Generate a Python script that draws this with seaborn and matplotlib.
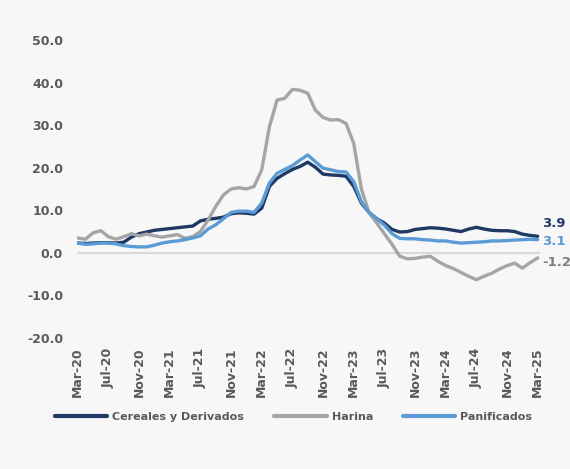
import numpy as np
import pandas as pd
import matplotlib
matplotlib.use("Agg")
import matplotlib.pyplot as plt
import seaborn as sns

months = pd.date_range("2020-03-01", "2025-03-01", freq="MS")
eng_abbr = ["Jan", "Feb", "Mar", "Apr", "May", "Jun", "Jul", "Aug", "Sep", "Oct", "Nov", "Dec"]

cereales = [2.3, 2.2, 2.3, 2.4, 2.4, 2.3, 2.5, 3.7, 4.5, 4.9,
            5.3, 5.5, 5.7, 5.9, 6.1, 6.3, 7.5, 7.9, 8.1, 8.4,
            9.2, 9.4, 9.3, 9.1, 10.5, 15.6, 17.5, 18.6, 19.6, 20.3,
            21.3, 20.1, 18.5, 18.3, 18.2, 18.0, 15.6, 11.7, 9.5, 8.0,
            7.0, 5.5, 4.9, 5.0, 5.5, 5.7, 5.9, 5.8, 5.6, 5.3,
            5.0, 5.6, 6.0, 5.6, 5.3, 5.2, 5.2, 5.0, 4.4, 4.1, 3.9]
harina = [3.5, 3.2, 4.7, 5.2, 3.8, 3.2, 3.8, 4.5, 4.0, 4.4,
          4.0, 3.7, 4.0, 4.3, 3.4, 3.8, 5.0, 7.7, 10.9, 13.6,
          15.0, 15.3, 15.0, 15.6, 19.5, 29.6, 35.9, 36.3, 38.4, 38.2,
          37.5, 33.5, 31.8, 31.2, 31.3, 30.4, 25.7, 15.0, 9.4, 7.0,
          4.5, 2.0, -0.8, -1.4, -1.3, -1.0, -0.8, -2.0, -3.0, -3.7,
          -4.6, -5.5, -6.3, -5.5, -4.8, -3.8, -3.0, -2.4, -3.6, -2.3, -1.2]
panificados = [2.3, 2.0, 2.1, 2.3, 2.3, 2.1, 1.7, 1.5, 1.4, 1.4,
               1.8, 2.3, 2.6, 2.8, 3.1, 3.5, 4.0, 5.6, 6.6, 8.0,
               9.5, 9.8, 9.8, 9.5, 11.7, 16.4, 18.7, 19.6, 20.5, 21.8,
               23.0, 21.4, 19.9, 19.5, 19.1, 19.0, 16.7, 12.0, 9.5, 8.0,
               6.5, 4.5, 3.4, 3.3, 3.3, 3.1, 3.0, 2.8, 2.8, 2.5,
               2.3, 2.4, 2.5, 2.6, 2.8, 2.8, 2.9, 3.0, 3.1, 3.2, 3.1]

series_names = ["Cereales y Derivados", "Harina", "Panificados"]
colors = ["#1f3864", "#a5a5a5", "#5b9bd5"]
label_colors = ["#1f3864", "#7f7f7f", "#5b9bd5"]
end_labels = ["3.9", "-1.2", "3.1"]
yticks = [-20, -10, 0, 10, 20, 30, 40, 50]

idx = np.arange(len(months))
labels = [f"{eng_abbr[m.month-1]}-{str(m.year)[2:]}" for m in months]

df = pd.DataFrame({
    "idx": np.concatenate([idx, idx, idx]),
    "valor": cereales + harina + panificados,
    "serie": [series_names[0]] * len(idx) + [series_names[1]] * len(idx) + [series_names[2]] * len(idx),
})

sns.set_theme(style="white")
FONT = ["DejaVu Sans"]
plt.rcParams["font.family"] = FONT
W = "bold"
bg = "#f7f7f7"
txt = "#595959"

fig = plt.figure(figsize=(5.70, 4.69), dpi=100, facecolor=bg)
ax = fig.add_axes([77/570, 1 - 338/469, (540 - 77)/570, (338 - 40)/469])
ax.set_facecolor(bg)

ax.axhline(0, color="#d9d9d9", lw=1.6, zorder=1)
sns.lineplot(data=df, x="idx", y="valor", hue="serie", hue_order=series_names,
             palette=colors, lw=2.4, ax=ax, legend=True, zorder=3)

ax.set_xlim(-0.1, 60.3)
ax.set_ylim(-20, 50)
ax.set_yticks(yticks)
ax.set_yticklabels([f"{v:.1f}" for v in yticks], fontsize=9, fontweight=W, color=txt)
tick_pos = idx[::4]
ax.set_xticks(tick_pos)
ax.set_xticklabels([labels[i] for i in tick_pos], rotation=90, fontsize=9,
                   fontweight=W, color=txt, va="top", ha="center")
ax.tick_params(axis="y", length=0, pad=10)
ax.tick_params(axis="x", length=0, pad=7)
for s in ax.spines.values():
    s.set_visible(False)
ax.set_xlabel("")
ax.set_ylabel("")

# end labels
vals = [cereales[-1], harina[-1], panificados[-1]]
offsets = [9.5, -3, -1]
for v, lab, c, off in zip(vals, end_labels, label_colors, offsets):
    ax.annotate(lab, xy=(60, v), xytext=(3, off), textcoords="offset points",
                ha="left", va="center", fontsize=9.5, fontweight=W, color=c,
                annotation_clip=False)

leg = ax.legend(loc="upper center", bbox_to_anchor=(0.468, -0.214), ncol=3, frameon=False,
                handlelength=4.7, columnspacing=2.7, handletextpad=0.45,
                prop={"family": FONT, "size": 8, "weight": W})
for t in leg.get_texts():
    t.set_color(txt)
for l in leg.get_lines():
    l.set_linewidth(3)

fig.savefig("out.png", dpi=100, facecolor=bg)
